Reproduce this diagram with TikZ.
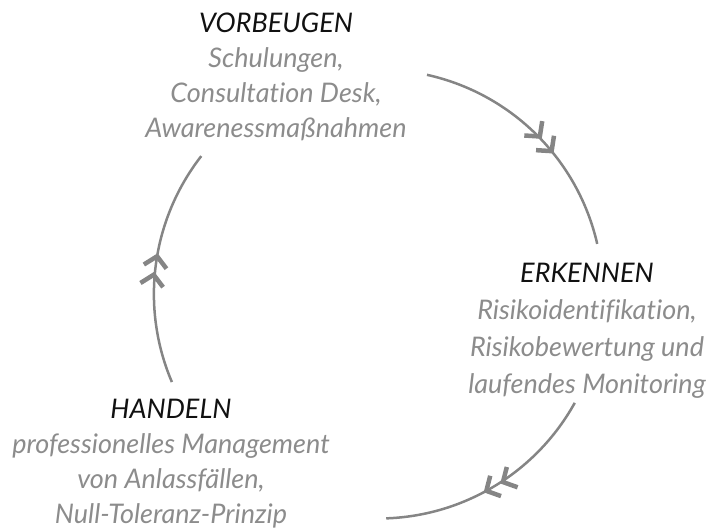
\documentclass[tikz,border=0pt]{standalone}
\usepackage{fontspec}
\setmainfont{Lato}[Ligatures=NoCommon]
\usetikzlibrary{arrows.meta,decorations.markings}
\definecolor{linegray}{HTML}{858585}
\definecolor{textgray}{HTML}{8C8C8C}
\definecolor{titleblack}{HTML}{111111}
\tikzset{
  chev/.tip={Straight Barb[length=10.5pt,width=23pt,line width=4.5pt,line cap=butt,line join=miter]},
}
\begin{document}
\begin{tikzpicture}[x=1pt,y=1pt,
  cyc/.style={draw=linegray, line width=2.5pt, postaction={decorate},
    decoration={markings, mark=at position #1 with {\arrow[linegray]{chev[sep=3pt]chev}}}},
  cyc/.default=0.5,
  block/.style={anchor=base, inner sep=0pt, text=textgray, font=\itshape}]
\useasboundingbox (0,0) rectangle (710,528);
\coordinate (c) at (378.4,234);
\coordinate (a1) at ([shift={(77.5:224.5)}]c);
\coordinate (a2) at ([shift={(-29:224.5)}]c);
\coordinate (a3) at ([shift={(203.1:224.5)}]c);
% text blocks
\node[block] (vorb) at (276,495) {\fontsize{27}{35}\selectfont\begin{tabular}[t]{@{}c@{}}\textcolor{titleblack}{VORBEUGEN}\\Schulungen,\\Consultation Desk,\\Awarenessmaßnahmen\end{tabular}};
\node[block] (erk) at (587,245) {\fontsize{27}{37}\selectfont\begin{tabular}[t]{@{}c@{}}\textcolor{titleblack}{ERKENNEN}\\Risikoidentifikation,\\Risikobewertung und\\laufendes Monitoring\end{tabular}};
\node[block] (hand) at (171,110) {\fontsize{27}{35}\selectfont\begin{tabular}[t]{@{}c@{}}\textcolor{titleblack}{HANDELN}\\professionelles Management\\von Anlassfällen,\\Null-Toleranz-Prinzip\end{tabular}};
% cycle arcs
\draw[cyc=0.6] (a1) arc[start angle=77.5, end angle=12.9, radius=224.5];
\draw[cyc=0.56] (a2) arc[start angle=-29, end angle=-88, radius=224.5];
\draw[cyc=0.55] (a3) arc[start angle=203.1, end angle=142.1, radius=224.5];
\end{tikzpicture}
\end{document}
